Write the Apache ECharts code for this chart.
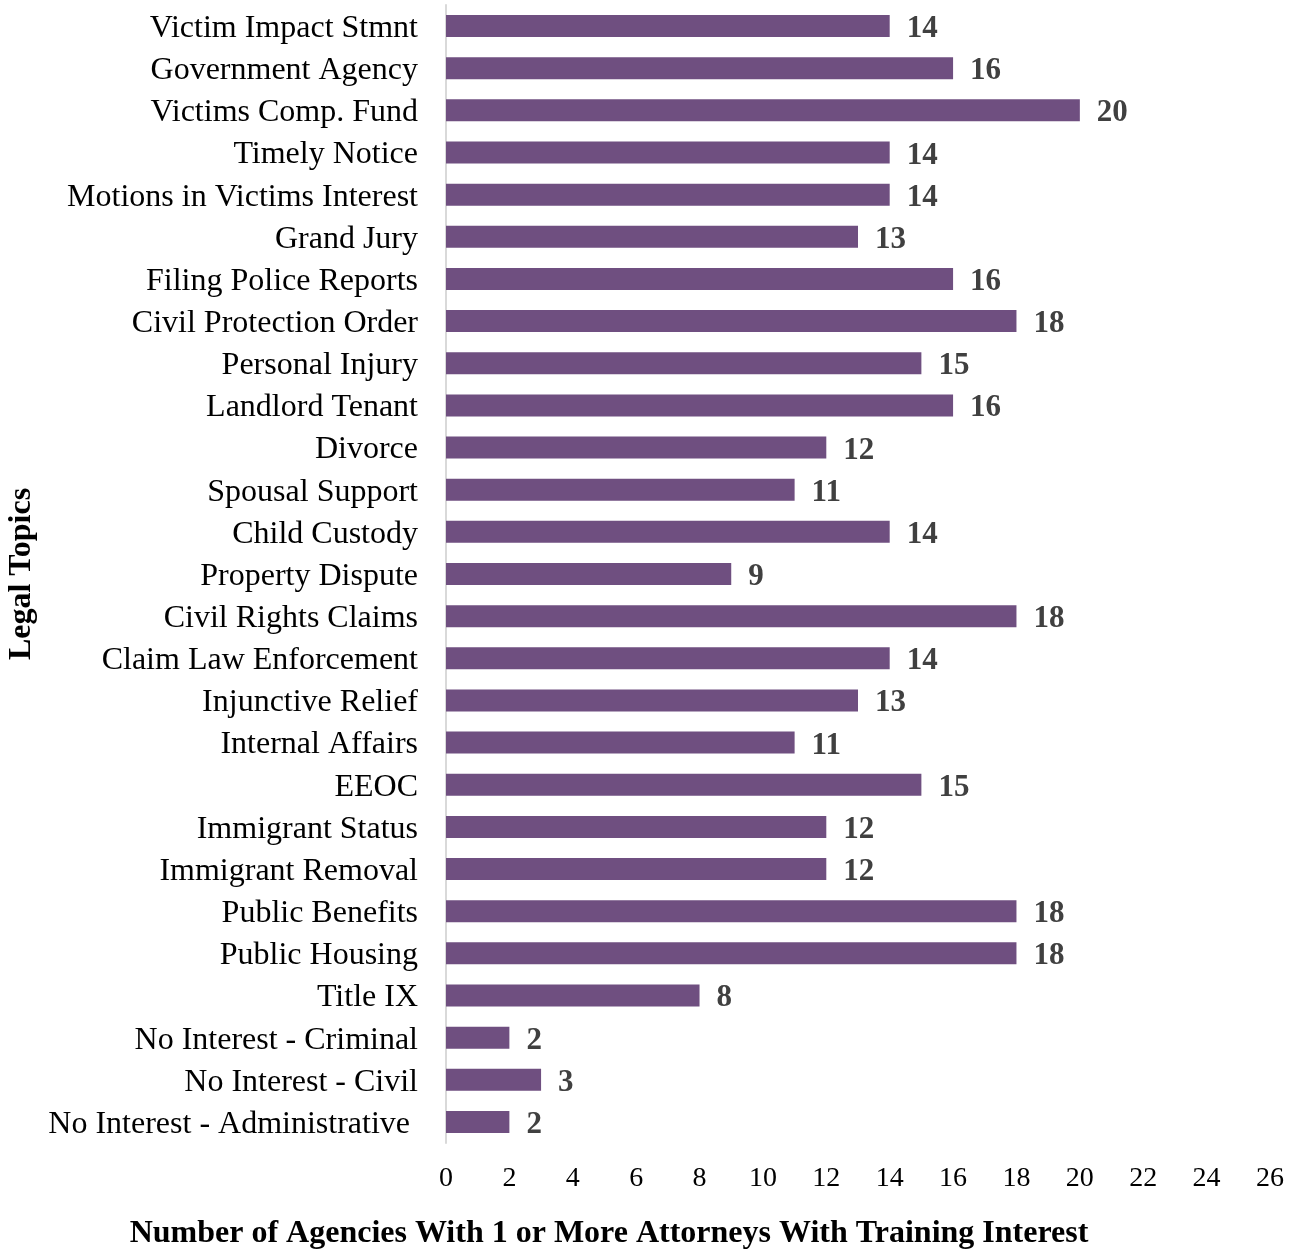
<!DOCTYPE html>
<html>
<head>
<meta charset="utf-8">
<script src="https://cdn.jsdelivr.net/npm/echarts@6/dist/echarts.min.js"></script>
<style>
  html, body { margin: 0; padding: 0; background: #fff; }
  #chart { width: 1302px; height: 1249px; }
</style>
</head>
<body>
<div id="chart"></div>
<script>
// Legal topics, listed top to bottom
const topics = [
  'Victim Impact Stmnt',
  'Government Agency',
  'Victims Comp. Fund',
  'Timely Notice',
  'Motions in Victims Interest',
  'Grand Jury',
  'Filing Police Reports',
  'Civil Protection Order',
  'Personal Injury',
  'Landlord Tenant',
  'Divorce',
  'Spousal Support',
  'Child Custody',
  'Property Dispute',
  'Civil Rights Claims',
  'Claim Law Enforcement',
  'Injunctive Relief',
  'Internal Affairs',
  'EEOC',
  'Immigrant Status',
  'Immigrant Removal',
  'Public Benefits',
  'Public Housing',
  'Title IX',
  'No Interest - Criminal',
  'No Interest - Civil',
  'No Interest - Administrative '
];

// Number of agencies per topic
const agencyCounts = [14, 16, 20, 14, 14, 13, 16, 18, 15, 16, 12, 11, 14, 9, 18, 14, 13, 11, 15, 12, 12, 18, 18, 8, 2, 3, 2];

const axisMin = 0;
const axisMax = 26;
const axisStep = 2;

const serif = '"Liberation Serif", "Times New Roman", serif';
const chart = echarts.init(document.getElementById('chart'), null, { renderer: 'canvas' });

chart.setOption({
  animation: false,
  backgroundColor: '#ffffff',
  grid: { left: 446, right: 32, top: 5, bottom: 106, containLabel: false, outerBoundsMode: 'none' },
  xAxis: {
    type: 'value',
    min: axisMin,
    max: axisMax,
    interval: axisStep,
    axisLine: { show: false },
    axisTick: { show: false },
    splitLine: { show: false },
    axisLabel: {
      margin: 22,
      color: '#000',
      fontFamily: serif,
      fontSize: 28
    }
  },
  yAxis: {
    type: 'category',
    data: topics,
    inverse: true,
    axisLine: { show: true, lineStyle: { color: '#d9d9d9', width: 2 } },
    axisTick: { show: false },
    axisLabel: {
      margin: 28,
      formatter: (v) => '{t|' + v + '}',
      rich: {
        t: {
          padding: [5, 0, 0, 0],
          color: '#000',
          fontFamily: serif,
          fontSize: 32
        }
      }
    },
    name: 'Legal Topics',
    nameLocation: 'middle',
    nameGap: 404,
    nameRotate: 90,
    nameTextStyle: {
      color: '#000',
      fontFamily: serif,
      fontSize: 32,
      fontWeight: 'bold'
    }
  },
  graphic: [{
    type: 'text',
    style: {
      x: 609,
      y: 1234,
      text: 'Number of Agencies With 1 or More Attorneys With Training Interest',
      fill: '#000',
      font: 'bold 32px ' + serif,
      textAlign: 'center',
      textVerticalAlign: 'middle'
    }
  }],
  series: [{
    type: 'bar',
    data: agencyCounts,
    barWidth: 22,
    itemStyle: { color: '#6f4f80' },
    label: {
      show: true,
      position: 'right',
      distance: 17,
      offset: [0, 3],
      color: '#404040',
      fontFamily: serif,
      fontSize: 31,
      fontWeight: 'bold'
    }
  }]
});
</script>
</body>
</html>
